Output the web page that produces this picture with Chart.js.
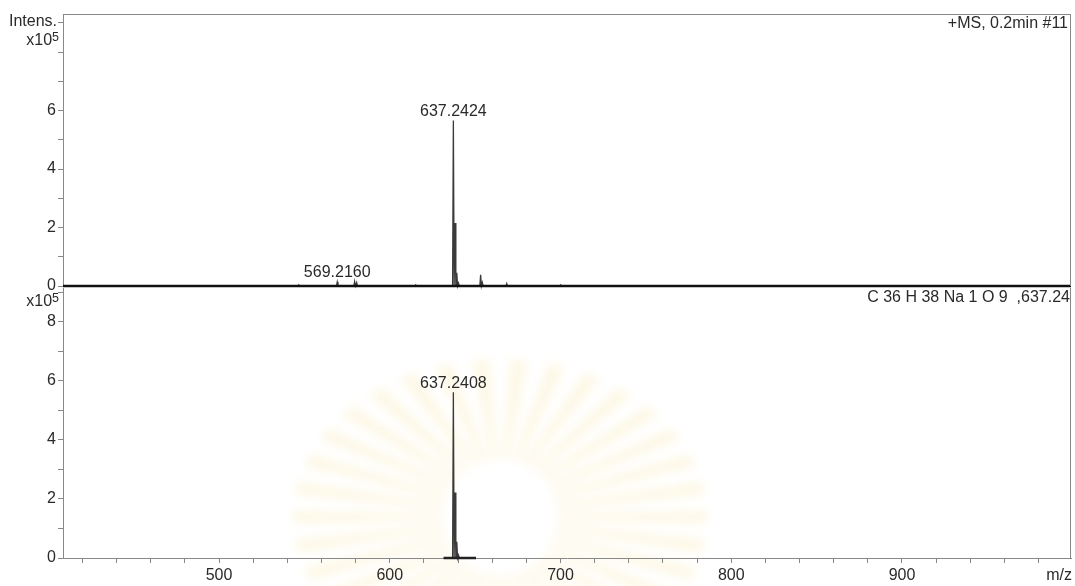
<!DOCTYPE html>
<html lang="en">
<head>
    <meta charset="UTF-8">
    <title>MS spectrum - measured vs simulated</title>
    <style>
        body {
            margin: 0;
            background: #fff;
            font-family: 'Liberation Sans', Arial, sans-serif;
            color: #2a2a2a;
        }
        .wrap {
            position: relative;
            width: 1075px;
            height: 586px;
            overflow: hidden;
        }
        canvas {
            position: absolute;
            left: 0;
        }
        .lbl {
            position: absolute;
            font-size: 16px;
            line-height: 16px;
            white-space: nowrap;
        }
        .lbl sup {
            font-size: 12.5px;
            position: relative;
            top: -3px;
            vertical-align: top;
        }
    </style>
    <script src="https://cdn.jsdelivr.net/npm/chart.js"></script>
</head>
<body>
    <div class="wrap">
        <canvas id="bottomChart" style="top:270px" width="1075" height="316"></canvas>
        <canvas id="topChart" style="top:0" width="1075" height="300"></canvas>

        <div class="lbl" style="right:1018px; top:13px;">Intens.</div>
        <div class="lbl" style="right:1016px; top:32px;">x10<sup>5</sup></div>
        <div class="lbl" style="right:1016px; top:293px;">x10<sup>5</sup></div>
        <div class="lbl" style="right:7px; top:15px;">+MS, 0.2min #11</div>
        <div class="lbl" style="right:5px; top:289px;">C 36 H 38 Na 1 O 9 &nbsp;,637.24</div>
        <div class="lbl" style="right:3px; top:567px;">m/z</div>
    </div>

    <script>
        // axis ranges (m/z and intensity x10^5)
        const xMin = 408.6;
        const xMax = 999;
        const topYMax = 9.3;
        const bottomYMax = 9.15;

        // measured spectrum (+MS, 0.2min #11)
        const measuredMz  = [546.8, 569.216, 579.4, 580.6, 615.2, 637.2424, 638.245, 639.25, 640.25, 653.21, 654.21, 668.5, 700.2];
        const measuredInt = [0.03,  0.14,    0.15,  0.12,  0.04,  5.66,     2.15,    0.45,   0.10,   0.38,   0.12,   0.08,  0.03];
        const measuredLabels = [569.2160, 637.2424];

        // simulated isotope pattern C36H38NaO9
        const simMz  = [637.2408, 638.2441, 639.2470, 640.2500];
        const simInt = [5.62,     2.22,     0.55,     0.10];
        const simLabels = [637.2408];
        const simBaseRange = [631.5, 650.5];

        const fontFamily = "'Liberation Sans', Arial, sans-serif";
        const axisColor = '#888';
        const textColor = '#2a2a2a';

        function sticks(mz, inten) {
            const pts = [];
            mz.forEach((m, i) => {
                pts.push({ x: m - 0.45, y: 0 });
                pts.push({ x: m, y: inten[i] });
                pts.push({ x: m + 0.45, y: 0 });
            });
            return pts;
        }

        function labelValue(mz, mzList, intList) {
            let best = 0;
            mzList.forEach((m, i) => {
                if (Math.abs(m - mz) < 0.5) best = Math.max(best, intList[i]);
            });
            return best;
        }

        // faint, blurred sunburst watermark behind the lower panel
        const watermarkPlugin = {
            id: 'watermark',
            beforeDraw(chart) {
                const ctx = chart.ctx;
                const cx = 500, cy = 247;
                const rays = 34;
                ctx.save();
                ctx.filter = 'blur(5px)';
                ctx.fillStyle = 'rgba(248, 232, 180, 0.32)';
                for (let i = 0; i < rays; i++) {
                    const a = (i / rays) * Math.PI * 2;
                    const da = Math.PI / rays * 0.6;
                    const r0 = 58, rx = 207, ry = 158;
                    ctx.beginPath();
                    ctx.moveTo(cx + Math.cos(a - da) * r0, cy + Math.sin(a - da) * r0);
                    ctx.lineTo(cx + Math.cos(a - da * 0.8) * rx, cy + Math.sin(a - da * 0.8) * ry);
                    ctx.lineTo(cx + Math.cos(a + da * 0.8) * rx, cy + Math.sin(a + da * 0.8) * ry);
                    ctx.lineTo(cx + Math.cos(a + da) * r0, cy + Math.sin(a + da) * r0);
                    ctx.closePath();
                    ctx.fill();
                }
                ctx.restore();
            }
        };

        // frame lines and peak labels
        const framePlugin = {
            id: 'frame',
            afterDraw(chart, args, opts) {
                const { ctx, chartArea } = chart;
                ctx.save();
                ctx.strokeStyle = axisColor;
                ctx.lineWidth = 1;
                ctx.beginPath();
                if (opts.top) {
                    ctx.moveTo(chartArea.left, chartArea.top + 0.5);
                    ctx.lineTo(chartArea.right, chartArea.top + 0.5);
                }
                ctx.moveTo(chartArea.right - 0.5, chartArea.top);
                ctx.lineTo(chartArea.right - 0.5, chartArea.bottom);
                ctx.stroke();

                const xs = chart.scales.x;
                const ys = chart.scales.y;
                ctx.fillStyle = textColor;
                ctx.font = '16px ' + fontFamily;
                ctx.textAlign = 'center';
                ctx.textBaseline = 'bottom';
                opts.labels.forEach(mz => {
                    const h = labelValue(mz, opts.mz, opts.inten);
                    const px = xs.getPixelForValue(mz);
                    const py = ys.getPixelForValue(h);
                    ctx.fillText(mz.toFixed(4), px, py - 1);
                });
                ctx.restore();
            }
        };

        function yScale(max, maxLabel) {
            return {
                min: 0,
                max: max,
                afterFit(s) { s.width = 63; },
                ticks: {
                    stepSize: 1,
                    includeBounds: false,
                    autoSkip: false,
                    color: textColor,
                    padding: 2,
                    font: { size: 16, family: fontFamily },
                    callback: v => (v % 2 === 0 && v <= maxLabel ? v : '')
                },
                grid: {
                    drawOnChartArea: false,
                    tickLength: 5,
                    tickColor: axisColor
                },
                border: { color: axisColor, width: 1 }
            };
        }

        const topChart = new Chart(document.getElementById('topChart'), {
            type: 'line',
            data: {
                datasets: [
                    {
                        data: [{ x: xMin, y: 0 }, { x: xMax, y: 0 }],
                        borderColor: '#111',
                        borderWidth: 2.5,
                        pointRadius: 0,
                        clip: false
                    },
                    {
                        data: sticks(measuredMz, measuredInt),
                        borderColor: '#3a3a3a',
                        borderWidth: 1.3,
                        pointRadius: 0,
                        tension: 0,
                        clip: false
                    }
                ]
            },
            options: {
                responsive: false,
                animation: false,
                events: [],
                layout: { padding: { top: 14, right: 4, bottom: 14, left: 0 } },
                plugins: {
                    legend: { display: false },
                    tooltip: { enabled: false },
                    frame: { top: true, labels: measuredLabels, mz: measuredMz, inten: measuredInt }
                },
                scales: {
                    x: { type: 'linear', min: xMin, max: xMax, display: false },
                    y: yScale(topYMax, 6)
                }
            },
            plugins: [framePlugin]
        });

        const bottomChart = new Chart(document.getElementById('bottomChart'), {
            type: 'line',
            data: {
                datasets: [
                    {
                        data: [{ x: simBaseRange[0], y: 0 }, { x: simBaseRange[1], y: 0 }],
                        borderColor: '#222',
                        borderWidth: 2.5,
                        pointRadius: 0,
                        clip: false
                    },
                    {
                        data: sticks(simMz, simInt),
                        borderColor: '#3a3a3a',
                        borderWidth: 1.3,
                        pointRadius: 0,
                        tension: 0,
                        clip: false
                    }
                ]
            },
            options: {
                responsive: false,
                animation: false,
                events: [],
                layout: { padding: { top: 18, right: 4, bottom: 0, left: 0 } },
                plugins: {
                    legend: { display: false },
                    tooltip: { enabled: false },
                    frame: { top: false, labels: simLabels, mz: simMz, inten: simInt }
                },
                scales: {
                    x: {
                        type: 'linear',
                        min: xMin,
                        max: xMax,
                        afterFit(s) { s.height = 28; },
                        ticks: {
                            stepSize: 20,
                            includeBounds: false,
                            autoSkip: false,
                            maxRotation: 0,
                            color: textColor,
                            padding: 3,
                            font: { size: 16, family: fontFamily },
                            callback: v => (v % 100 === 0 ? v : '')
                        },
                        grid: {
                            drawOnChartArea: false,
                            tickLength: 5,
                            tickColor: axisColor
                        },
                        border: { color: axisColor, width: 1 }
                    },
                    y: yScale(bottomYMax, 8)
                }
            },
            plugins: [watermarkPlugin, framePlugin]
        });
    </script>
</body>
</html>
